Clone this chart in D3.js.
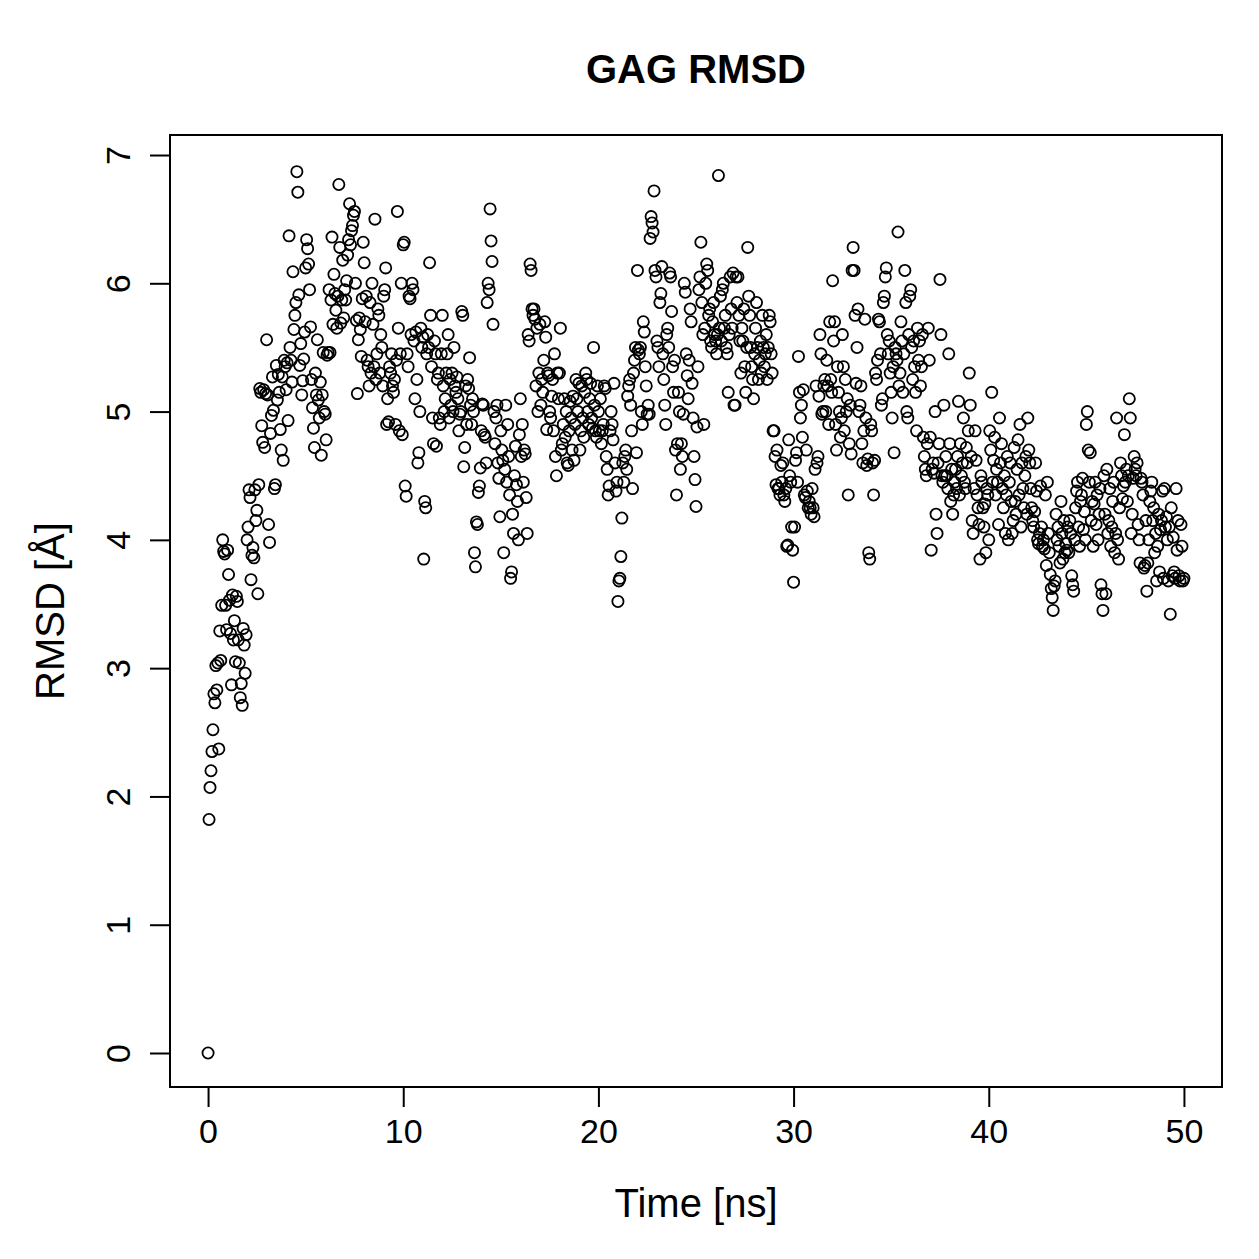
<!DOCTYPE html>
<html>
<head>
    <script src="https://d3js.org/d3.v7.min.js"></script>
    <style>
        body { margin: 0; background: #fff; }
        text { font-family: "Liberation Sans", Arial, Helvetica, sans-serif; fill: #000; }
    </style>
</head>
<body>
    <div id="chart"></div>
    <script>
        // sampling interval of the trajectory (ns)
        var timeStep = 0.05;

        // RMSD values, one row per ns
        var rmsd = [
            0, 1.82, 2.07, 2.2, 2.35, 2.52, 2.8, 2.73, 3.02, 2.83, 3.04, 2.37, 3.29, 3.06, 3.49, 4.0, 3.91, 3.89, 3.49, 3.3,
            3.92, 3.73, 3.53, 3.27, 2.87, 3.57, 3.22, 3.37, 3.05, 3.56, 3.52, 3.22, 3.04, 2.77, 2.88, 2.71, 3.31, 3.18, 2.96, 3.26,
            4.0, 4.1, 4.39, 4.33, 3.69, 3.88, 3.94, 3.86, 4.39, 4.15, 4.23, 3.58, 4.43, 5.18, 5.15, 4.89, 4.76, 5.17, 4.72, 5.14,
            5.56, 5.13, 4.12, 3.98, 4.83, 4.97, 5.27, 5.01, 4.4, 4.43, 5.36, 5.09, 5.29, 5.15, 4.86, 4.7, 5.27, 4.62, 5.4, 5.35,
            5.17, 5.38, 4.93, 6.37, 5.5, 5.4, 5.23, 6.09, 5.64, 5.75, 5.85, 6.87, 6.71, 5.91, 5.36, 5.53, 5.13, 5.24, 5.41, 5.62,
            6.12, 6.34, 6.27, 6.15, 5.95, 5.66, 5.25, 5.03, 4.87, 4.72, 5.3, 5.13, 5.56, 5.09, 4.95, 5.23, 4.66, 5.13, 5.46, 5.0,
            4.98, 4.78, 5.44, 5.46, 5.95, 5.46, 5.87, 6.36, 5.68, 6.07, 5.92, 5.79, 5.65, 5.9, 6.77, 6.28, 5.69, 5.87, 6.18, 5.73,
            5.95, 5.87, 6.02, 6.22, 6.34, 6.62, 6.3, 6.41, 6.45, 6.53, 6.56, 6.0, 5.71, 5.14, 5.56, 5.73, 5.64, 5.43, 5.88, 6.32,
            6.16, 5.7, 5.9, 5.4, 5.35, 5.2, 5.85, 5.3, 6.0, 5.68, 5.35, 6.5, 5.25, 5.45, 5.8, 5.75, 5.3, 5.6, 5.5, 5.2,
            5.9, 5.95, 6.12, 4.9, 5.1, 4.92, 5.35, 5.3, 5.45, 5.2, 5.15, 5.25, 4.9, 5.4, 6.56, 5.65, 4.85, 5.45, 6.0, 4.82,
            6.3, 6.32, 4.42, 4.34, 5.45, 5.35, 5.9, 5.88, 5.6, 6.0, 5.95, 5.55, 5.1, 5.62, 5.25, 4.6, 4.68, 5.0, 5.65, 5.5,
            5.58, 3.85, 4.3, 4.25, 5.45, 5.6, 5.5, 6.16, 5.75, 5.35, 4.95, 4.75, 5.55, 5.45, 4.73, 5.25, 5.3, 4.95, 4.9, 5.45,
            5.75, 5.2, 5.0, 5.1, 5.3, 5.45, 5.6, 4.95, 5.25, 5.05, 5.3, 5.0, 5.5, 5.2, 5.15, 5.27, 5.1, 4.85, 4.98, 5.0,
            5.78, 5.75, 4.57, 4.72, 5.2, 4.9, 5.25, 5.18, 5.42, 5.05, 4.9, 5.1, 5.0, 3.9, 3.79, 4.14, 4.12, 4.37, 4.42, 4.56,
            4.85, 5.06, 5.05, 4.82, 4.8, 4.6, 5.85, 6.0, 5.95, 6.58, 6.33, 6.17, 5.68, 5.0, 4.75, 4.95, 5.05, 4.6, 4.48, 4.18,
            4.85, 4.7, 4.62, 3.9, 4.55, 5.05, 4.45, 4.9, 4.65, 4.35, 3.7, 3.75, 4.2, 4.05, 4.5, 4.73, 4.43, 4.3, 4.0, 4.82,
            5.1, 4.65, 4.9, 4.45, 4.7, 4.67, 4.33, 4.05, 5.6, 5.55, 6.15, 6.1, 5.8, 5.75, 5.8, 5.72, 5.2, 5.65, 5.0, 5.3,
            5.68, 5.05, 5.25, 5.15, 5.4, 5.7, 5.58, 4.86, 5.3, 5.28, 5.0, 4.95, 5.12, 5.25, 4.85, 5.45, 4.65, 4.5, 5.3, 5.1,
            5.3, 5.65, 4.7, 4.75, 4.9, 5.1, 4.8, 5.0, 4.6, 4.58, 4.85, 5.08, 4.95, 4.7, 5.12, 4.62, 4.9, 5.25, 5.1, 5.0,
            5.22, 4.7, 4.85, 5.2, 4.95, 4.8, 5.15, 5.3, 5.25, 5.0, 4.9, 5.1, 5.22, 4.95, 4.87, 5.5, 5.05, 4.85, 4.8, 5.2,
            5.0, 4.85, 5.1, 4.75, 4.85, 4.9, 5.2, 5.18, 4.65, 4.55, 4.35, 4.42, 4.85, 5.0, 4.9, 4.78, 5.22, 4.6, 4.38, 4.45,
            3.52, 3.68, 3.7, 3.87, 4.17, 4.6, 4.45, 4.65, 4.7, 4.55, 5.12, 5.2, 5.25, 5.05, 4.85, 4.4, 5.3, 5.4, 5.5, 4.68,
            6.1, 5.48, 5.45, 5.5, 5.0, 4.9, 5.7, 5.62, 5.35, 5.2, 4.98, 5.05, 4.98, 6.35, 6.52, 6.47, 6.4, 6.72, 6.1, 6.05,
            5.55, 5.5, 5.35, 5.85, 5.92, 6.13, 5.45, 5.25, 5.05, 4.9, 5.6, 5.65, 5.5, 6.08, 6.05, 5.78, 5.35, 5.15, 5.4, 4.7,
            4.35, 4.75, 5.15, 5.0, 4.55, 4.75, 4.65, 4.98, 6.0, 5.93, 5.45, 5.28, 5.1, 5.4, 5.8, 5.7, 5.22, 4.95, 4.65, 4.47,
            4.26, 4.88, 5.35, 5.95, 6.05, 6.32, 5.85, 5.6, 4.9, 5.65, 6.0, 6.15, 6.1, 5.75, 5.8, 5.55, 5.5, 5.7, 5.85, 5.6,
            5.55, 5.45, 5.6, 6.84, 5.65, 5.9, 5.55, 5.95, 6.0, 5.65, 5.75, 5.5, 5.45, 5.15, 5.6, 6.05, 5.8, 5.65, 6.08, 5.05,
            5.05, 6.05, 5.85, 6.05, 5.75, 5.55, 5.3, 5.65, 5.55, 5.8, 5.35, 5.15, 5.5, 6.28, 5.9, 5.75, 5.5, 5.35, 5.25, 5.1,
            5.45, 5.65, 5.85, 5.5, 5.25, 5.4, 5.55, 5.3, 5.75, 5.5, 5.35, 5.45, 5.6, 5.25, 5.5, 5.75, 5.7, 5.45, 5.3, 4.85,
            4.85, 4.65, 4.43, 4.7, 4.4, 4.4, 4.35, 4.58, 4.45, 4.6, 4.35, 4.3, 4.4, 3.95, 3.96, 4.78, 4.5, 4.45, 4.1, 3.92,
            3.67, 4.1, 4.62, 4.68, 4.45, 5.43, 5.15, 4.95, 5.05, 4.8, 5.17, 4.35, 4.33, 4.7, 4.38, 4.25, 4.3, 4.25, 4.2, 4.4,
            4.25, 4.18, 4.55, 5.2, 4.6, 4.65, 5.12, 5.6, 5.45, 4.98, 5.0, 5.2, 5.25, 5.0, 5.4, 5.2, 4.9, 5.7, 5.25, 5.15,
            6.02, 5.55, 5.7, 4.9, 4.7, 5.35, 5.15, 5.0, 4.8, 4.95, 5.6, 5.35, 4.85, 5.25, 5.0, 5.1, 4.35, 4.75, 5.05, 4.67,
            6.1, 6.28, 6.1, 5.75, 5.22, 5.5, 5.8, 5.0, 5.05, 5.2, 4.75, 4.6, 4.85, 5.72, 4.95, 4.58, 4.63, 3.9, 3.85, 4.9,
            4.85, 4.6, 4.35, 4.62, 5.3, 5.25, 5.4, 5.72, 5.7, 5.45, 5.05, 5.1, 5.85, 5.9, 6.05, 6.12, 5.6, 5.45, 5.55, 5.3,
            5.15, 4.95, 5.35, 4.68, 5.5, 5.45, 5.4, 6.4, 5.2, 5.3, 5.7, 5.55, 5.15, 5.45, 6.1, 5.85, 5.0, 4.95, 5.6, 5.9,
            5.95, 5.5, 5.25, 5.55, 5.35, 5.15, 4.85, 5.65, 5.4, 5.55, 5.2, 5.35, 5.6, 4.8, 4.65, 4.55, 4.5, 4.75, 5.65, 5.4,
            4.8, 3.92, 4.55, 4.6, 4.52, 5.0, 4.2, 4.05, 4.6, 4.75, 6.03, 5.6, 4.5, 4.45, 5.05, 4.5, 4.65, 4.5, 4.4, 5.45,
            4.75, 4.3, 4.55, 4.2, 4.35, 4.45, 4.55, 4.4, 4.65, 5.08, 4.35, 4.75, 4.5, 4.6, 4.95, 4.45, 4.4, 4.72, 4.6, 4.85,
            5.3, 5.05, 4.65, 4.15, 4.05, 4.4, 4.85, 4.62, 4.35, 4.25, 4.12, 3.85, 4.5, 4.45, 4.25, 4.1, 4.28, 3.9, 4.4, 4.35,
            4.0, 4.85, 4.7, 5.15, 4.45, 4.62, 4.8, 4.35, 4.55, 4.45, 4.12, 4.95, 4.6, 4.75, 4.4, 4.25, 4.5, 4.05, 4.35, 4.65,
            4.0, 4.45, 4.6, 4.3, 4.05, 4.15, 4.72, 4.3, 4.2, 4.55, 4.78, 4.35, 4.9, 4.1, 4.6, 4.4, 4.25, 4.5, 4.65, 4.2,
            4.95, 4.7, 4.6, 4.4, 4.25, 4.15, 4.1, 4.22, 4.6, 4.38, 4.0, 3.97, 4.05, 4.42, 4.1, 3.95, 4.0, 3.93, 4.35, 3.8,
            4.45, 4.05, 3.9, 3.73, 3.62, 3.55, 3.45, 3.64, 3.68, 4.2, 4.0, 4.1, 3.95, 3.82, 4.3, 4.05, 3.85, 4.15, 3.9, 3.97,
            3.92, 4.1, 3.9, 4.15, 4.05, 3.72, 3.65, 3.6, 4.0, 4.25, 4.38, 4.45, 4.1, 3.95, 4.3, 4.35, 4.48, 4.08, 4.22, 4.0,
            4.9, 5.0, 4.7, 4.45, 4.68, 4.15, 4.3, 3.95, 4.28, 4.45, 4.12, 4.35, 4.0, 4.2, 4.4, 3.65, 3.58, 3.45, 4.5, 4.2,
            3.58, 4.55, 4.05, 4.15, 4.4, 3.95, 4.1, 4.3, 4.45, 3.9, 4.05, 4.95, 4.0, 3.85, 4.25, 4.6, 4.5, 4.32, 4.42, 4.82,
            4.45, 4.55, 4.3, 4.5, 5.1, 4.95, 4.05, 4.2, 4.48, 4.65, 4.55, 4.5, 4.6, 4.12, 4.0, 3.82, 4.48, 4.45, 4.35, 3.78,
            3.8, 4.15, 3.6, 3.82, 4.0, 4.3, 4.38, 4.45, 4.15, 4.25, 3.9, 4.05, 3.68, 3.95, 4.2, 3.75, 4.08, 4.15, 4.38, 3.7,
            4.4, 4.1, 4.18, 4.0, 3.68, 4.1, 3.42, 4.25, 3.72, 4.02, 3.75, 3.7, 4.4, 3.92, 4.15, 3.72, 3.68, 4.12, 3.95, 3.68,
            3.7
        ];

        var xTicks = [0, 10, 20, 30, 40, 50];
        var yTicks = [0, 1, 2, 3, 4, 5, 6, 7];

        var width = 1259, height = 1259;
        var margin = { top: 135, right: 37, bottom: 172, left: 170 };

        var data = rmsd.map(function (v, i) {
            return { time: i * timeStep, rmsd: v };
        });

        var svg = d3.select("#chart")
            .append("svg")
            .attr("width", width)
            .attr("height", height);

        var x = d3.scaleLinear()
            .domain([-1.95, 51.95])
            .range([margin.left, width - margin.right]);

        var y = d3.scaleLinear()
            .domain([-0.265, 7.156])
            .range([height - margin.bottom, margin.top]);

        // axes, R style: outward ticks, labels parallel to the axis
        var xAxis = svg.append("g")
            .attr("transform", "translate(0," + (height - margin.bottom) + ")")
            .call(d3.axisBottom(x).tickValues(xTicks).tickSize(20).tickPadding(12).tickFormat(d3.format("d")));

        var yAxis = svg.append("g")
            .attr("transform", "translate(" + margin.left + ",0)")
            .call(d3.axisLeft(y).tickValues(yTicks).tickSize(20).tickFormat(d3.format("d")));

        [xAxis, yAxis].forEach(function (g) {
            g.select(".domain").remove();
            g.selectAll("line").attr("stroke", "#000").attr("stroke-width", 2);
            g.selectAll("text")
                .style("font-family", "'Liberation Sans', Arial, sans-serif")
                .style("font-size", "34px")
                .attr("fill", "#000");
        });

        // axis lines span first to last tick only
        svg.append("line")
            .attr("x1", x(0)).attr("x2", x(50))
            .attr("y1", height - margin.bottom).attr("y2", height - margin.bottom)
            .attr("stroke", "#000").attr("stroke-width", 2);

        xAxis.selectAll("text").attr("dy", "0.71em");

        // tick groups are already translated to y(d); rotate labels in place
        yAxis.selectAll("text")
            .attr("x", null)
            .attr("dy", null)
            .attr("text-anchor", "middle")
            .attr("transform", "translate(-40,0) rotate(-90)");

        // plot box
        svg.append("rect")
            .attr("x", margin.left)
            .attr("y", margin.top)
            .attr("width", width - margin.left - margin.right)
            .attr("height", height - margin.top - margin.bottom)
            .attr("fill", "none")
            .attr("stroke", "#000")
            .attr("stroke-width", 2);

        // points
        svg.append("g")
            .selectAll("circle")
            .data(data)
            .enter()
            .append("circle")
            .attr("cx", function (d) { return x(d.time); })
            .attr("cy", function (d) { return y(d.rmsd); })
            .attr("r", 5.6)
            .attr("fill", "none")
            .attr("stroke", "#000")
            .attr("stroke-width", 1.8);

        // titles
        svg.append("text")
            .attr("x", (margin.left + width - margin.right) / 2)
            .attr("y", 83)
            .attr("text-anchor", "middle")
            .style("font-size", "40px")
            .style("font-weight", "bold")
            .text("GAG RMSD");

        svg.append("text")
            .attr("x", (margin.left + width - margin.right) / 2)
            .attr("y", 1217)
            .attr("text-anchor", "middle")
            .style("font-size", "40px")
            .text("Time [ns]");

        svg.append("text")
            .attr("transform", "translate(64," + ((margin.top + height - margin.bottom) / 2) + ") rotate(-90)")
            .attr("text-anchor", "middle")
            .style("font-size", "40px")
            .text("RMSD [Å]");
    </script>
</body>
</html>
